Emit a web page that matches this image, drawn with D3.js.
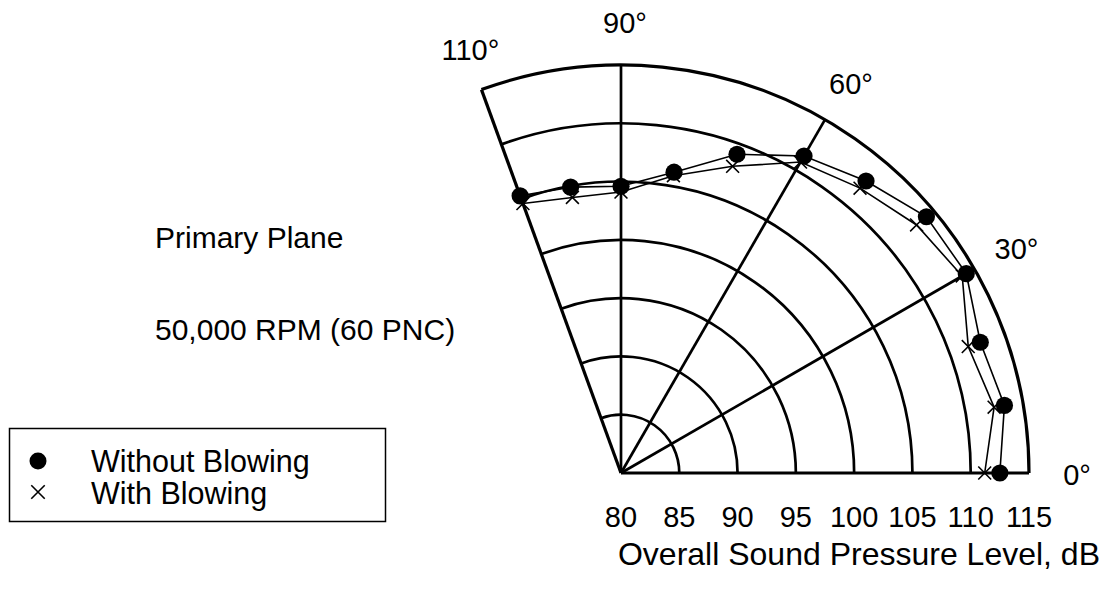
<!DOCTYPE html>
<html>
<head>
<meta charset="utf-8">
<script src="https://cdn.jsdelivr.net/npm/d3@7"></script>
<style>
  body { margin: 0; background: #fff; }
  text { font-family: "Liberation Sans", Arial, sans-serif; fill: #000; }
</style>
</head>
<body>
<div id="chart"></div>
<script>
// angles of the microphone positions (deg) and levels (dB)
var angles = [0, 10, 20, 30, 40, 50, 60, 70, 80, 90, 100, 110];
var withoutBlowing = [112.5, 113.4, 112.8, 114.2, 114.2, 112.7, 111.4, 109.1, 106.2, 104.6, 104.9, 105.3];
var withBlowing = [111.2, 112.5, 111.7, 113.8, 113.1, 111.9, 110.8, 108.0, 105.9, 104.1, 104.0, 104.6];

// grid
var ringLevels = [85, 90, 95, 100, 105, 110, 115];
var spokeAngles = [0, 30, 60, 90, 110];
var tickLabels = [80, 85, 90, 95, 100, 105, 110, 115];

var svgWidth = 1109;
var svgHeight = 599;
var cx = 621, cy = 473;

var svg = d3.select("#chart")
  .append("svg")
  .attr("width", svgWidth)
  .attr("height", svgHeight);

// scales
var rScale = d3.scaleLinear().domain([80, 115]).range([0, 408]);
var aScale = d3.scaleLinear().domain([0, 180]).range([0, Math.PI]);

function px(a, v) { return cx + rScale(v) * Math.cos(aScale(a)); }
function py(a, v) { return cy - rScale(v) * Math.sin(aScale(a)); }

var plot = svg.append("g");

// rings
plot.selectAll("path.ring")
  .data(ringLevels)
  .enter()
  .append("path")
  .attr("class", "ring")
  .attr("d", function(v) {
    var p = d3.path();
    p.arc(cx, cy, rScale(v), 0, -aScale(110), true);
    return p.toString();
  })
  .attr("fill", "none")
  .attr("stroke", "#000")
  .attr("stroke-width", function(v) { return v === 115 ? 3.2 : 2.7; });

// spokes
plot.selectAll("line.spoke")
  .data(spokeAngles)
  .enter()
  .append("line")
  .attr("class", "spoke")
  .attr("x1", cx)
  .attr("y1", cy)
  .attr("x2", function(a) { return px(a, 115); })
  .attr("y2", function(a) { return py(a, 115); })
  .attr("stroke", "#000")
  .attr("stroke-width", function(a) { return (a === 0 || a === 110) ? 3.2 : 2.7; });

// angle labels
plot.selectAll("text.angle")
  .data(spokeAngles)
  .enter()
  .append("text")
  .attr("class", "angle")
  .attr("x", function(a) { return cx + 4 + (rScale(115) + 44) * Math.cos(aScale(a)); })
  .attr("y", function(a) { return cy - (rScale(115) + 44) * Math.sin(aScale(a)) + 12; })
  .attr("text-anchor", "middle")
  .attr("font-size", "29px")
  .text(function(a) { return a + "\u00b0"; });

// radial tick labels
plot.selectAll("text.tick")
  .data(tickLabels)
  .enter()
  .append("text")
  .attr("class", "tick")
  .attr("x", function(v) { return cx + rScale(v); })
  .attr("y", cy + 54)
  .attr("text-anchor", "middle")
  .attr("font-size", "29px")
  .text(function(v) { return v; });

svg.append("text")
  .attr("x", 1100)
  .attr("y", 565)
  .attr("text-anchor", "end")
  .attr("font-size", "32px")
  .text("Overall Sound Pressure Level, dB");

// data lines
var line = d3.line()
  .x(function(d, i) { return px(angles[i], d); })
  .y(function(d, i) { return py(angles[i], d); });

plot.append("path")
  .attr("d", line(withBlowing))
  .attr("fill", "none")
  .attr("stroke", "#000")
  .attr("stroke-width", 1.6);

plot.append("path")
  .attr("d", line(withoutBlowing))
  .attr("fill", "none")
  .attr("stroke", "#000")
  .attr("stroke-width", 1.6);

// x markers
var cross = d3.symbol().type(d3.symbolX).size(110);
plot.selectAll("path.cross")
  .data(withBlowing)
  .enter()
  .append("path")
  .attr("class", "cross")
  .attr("d", cross)
  .attr("transform", function(d, i) { return "translate(" + px(angles[i], d) + "," + py(angles[i], d) + ")"; })
  .attr("fill", "none")
  .attr("stroke", "#000")
  .attr("stroke-width", 1.6);

// dots
plot.selectAll("circle.dot")
  .data(withoutBlowing)
  .enter()
  .append("circle")
  .attr("class", "dot")
  .attr("cx", function(d, i) { return px(angles[i], d); })
  .attr("cy", function(d, i) { return py(angles[i], d); })
  .attr("r", 8.6)
  .attr("fill", "#000");

// side notes
svg.append("text")
  .attr("x", 155)
  .attr("y", 248)
  .attr("font-size", "30px")
  .text("Primary Plane");

svg.append("text")
  .attr("x", 155)
  .attr("y", 340)
  .attr("font-size", "30px")
  .text("50,000 RPM (60 PNC)");

// legend
var legend = svg.append("g");
legend.append("rect")
  .attr("x", 9.5)
  .attr("y", 428.5)
  .attr("width", 376)
  .attr("height", 93)
  .attr("fill", "none")
  .attr("stroke", "#000")
  .attr("stroke-width", 1.5);

legend.append("circle")
  .attr("cx", 38)
  .attr("cy", 461)
  .attr("r", 8.5)
  .attr("fill", "#000");

legend.append("path")
  .attr("d", d3.symbol().type(d3.symbolX).size(120))
  .attr("transform", "translate(38,492)")
  .attr("fill", "none")
  .attr("stroke", "#000")
  .attr("stroke-width", 1.6);

legend.append("text")
  .attr("x", 91)
  .attr("y", 472)
  .attr("font-size", "30.5px")
  .text("Without Blowing");

legend.append("text")
  .attr("x", 91)
  .attr("y", 504)
  .attr("font-size", "30.5px")
  .text("With Blowing");
</script>
</body>
</html>
